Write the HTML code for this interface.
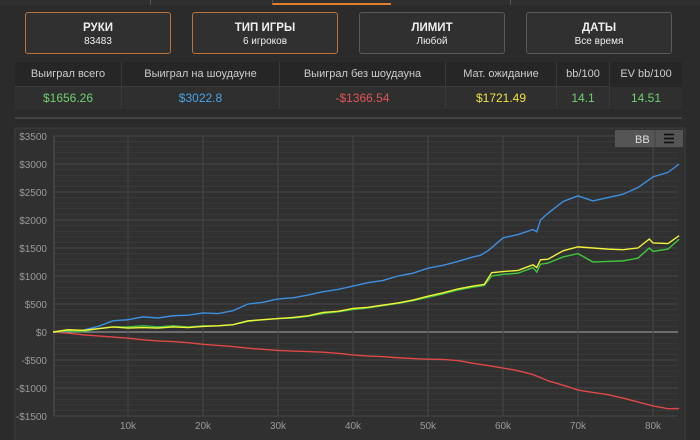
<!DOCTYPE html>
<html><head><meta charset="utf-8"><style>
body{margin:0;width:700px;height:440px;background:#2b2b2b;font-family:"Liberation Sans",sans-serif;overflow:hidden;position:relative;color:#ddd}
.tabbar{position:absolute;left:0;top:0;width:700px;height:5px;background:#2f2f2f}
.tab{position:absolute;top:0;height:5px;border-left:1px solid #555}
.btn{position:absolute;top:12px;width:144px;height:40px;border:1px solid #5a5a5a;border-radius:3px;background:#303030;text-align:center;font-size:11px;color:#eee}
.btn b{display:block;margin-top:9px;font-size:11.5px}
.btn span{display:block;margin-top:2px;font-size:10px}
.orange{border-color:#b8733a}
table{position:absolute;left:15px;top:62px;width:667px;border-collapse:collapse;font-size:11px}
td{text-align:center;border-right:1px solid #3a3a3a;padding:0}
tr.h td{background:#262626;height:24px;color:#ccc}
tr.v td{background:#2f2f2f;height:22px;font-size:12px;border-top:1px solid #3c3c3c}
</style></head><body>
<div class="tabbar">
<div class="tab" style="left:150px"></div>
<div class="tab" style="left:272px;width:118px;border-bottom:2px solid #e0802a;height:3px"></div>
<div class="tab" style="left:510px"></div>
</div>
<div class="btn orange" style="left:25px"><b>РУКИ</b><span>83483</span></div>
<div class="btn orange" style="left:192px"><b>ТИП ИГРЫ</b><span>6 игроков</span></div>
<div class="btn" style="left:359px"><b>ЛИМИТ</b><span>Любой</span></div>
<div class="btn" style="left:526px"><b>ДАТЫ</b><span>Все время</span></div>
<table>
<tr class="h"><td style="width:106px">Выиграл всего</td><td style="width:157px">Выиграл на шоудауне</td><td style="width:165px">Выиграл без шоудауна</td><td style="width:110px">Мат. ожидание</td><td style="width:52px">bb/100</td><td style="border:0">EV bb/100</td></tr>
<tr class="v"><td style="color:#6fcf6f">$1656.26</td><td style="color:#4aa3e8">$3022.8</td><td style="color:#e05555">-$1366.54</td><td style="color:#f0e040">$1721.49</td><td style="color:#6fcf6f">14.1</td><td style="color:#6fcf6f;border:0">14.51</td></tr>
</table>
<div style="position:absolute;left:15px;top:117px;width:667px;height:2px;background:#444"></div>
<svg id="c" width="700" height="440" style="position:absolute;left:0;top:0">
<rect x="15" y="128" width="670" height="320" fill="#303030" stroke="#3e3e3e"/>
<g id="grid"></g><g id="lines"></g>
<rect x="615" y="130" width="68" height="17" fill="#555"/>
<text x="635" y="143" font-size="11" fill="#ddd" font-family="Liberation Sans">BB</text>
<line x1="655" y1="130" x2="655" y2="147" stroke="#444"/>
<g stroke="#111" stroke-width="1.6"><line x1="664" y1="134.5" x2="674" y2="134.5"/><line x1="664" y1="138.5" x2="674" y2="138.5"/><line x1="664" y1="142.5" x2="674" y2="142.5"/></g>
</svg>
<script>
const yTicks=[3500,3000,2500,2000,1500,1000,500,0,-500,-1000,-1500];
const xTicks=[10000,20000,30000,40000,50000,60000,70000,80000];
const xTickLabels=["10k","20k","30k","40k","50k","60k","70k","80k"];
const blueX=[0,2000,4000,6000,8000,10000,12000,14000,16000,18000,20000,22000,24000,26000,28000,30000,32000,34000,36000,38000,40000,42000,44000,46000,48000,50000,52000,54000,56000,57000,58000,60000,62000,64000,64500,65000,66000,68000,70000,72000,74000,76000,78000,80000,82000,83483];
const blueY=[0,10,30,100,200,220,270,250,290,300,340,330,380,500,530,590,610,660,720,760,820,880,920,1000,1050,1140,1190,1260,1340,1370,1450,1680,1740,1830,1790,2000,2120,2330,2430,2340,2400,2460,2580,2770,2850,3000];
const yelX=[0,2000,4000,6000,8000,10000,12000,14000,16000,18000,20000,22000,24000,26000,28000,30000,32000,34000,36000,38000,40000,42000,44000,46000,48000,50000,52000,54000,56000,57500,58500,60000,62000,64000,64500,65000,66000,68000,70000,72000,74000,76000,78000,79500,80000,82000,83483];
const yelY=[0,40,30,60,90,70,80,70,90,80,100,110,130,200,220,240,260,290,350,370,420,440,480,520,570,640,700,770,820,850,1060,1080,1100,1200,1150,1290,1300,1450,1520,1500,1480,1470,1500,1660,1590,1580,1720];
const greenY=[0,20,10,60,90,90,110,90,110,90,110,110,130,190,220,240,250,280,330,360,400,430,470,510,560,620,680,750,800,830,1000,1030,1050,1150,1070,1210,1230,1340,1400,1250,1260,1270,1320,1500,1440,1480,1656];
const redX=[0,2000,4000,6000,8000,10000,12000,14000,16000,18000,20000,22000,24000,26000,28000,30000,32000,34000,36000,38000,40000,42000,44000,46000,48000,50000,52000,54000,56000,58000,60000,62000,64000,66000,68000,70000,72000,74000,76000,78000,80000,82000,83483];
const redY=[0,-20,-50,-70,-90,-110,-140,-160,-170,-190,-220,-240,-260,-290,-310,-330,-340,-350,-360,-380,-410,-430,-440,-460,-475,-485,-490,-510,-560,-600,-643,-690,-760,-870,-950,-1036,-1080,-1120,-1180,-1250,-1320,-1370,-1366];
const X=v=>53+v*75/10000, Y=v=>332-v*56/1000;
const NS="http://www.w3.org/2000/svg";
const grid=document.getElementById('grid'), lines=document.getElementById('lines');
function mk(tag,at,p){const e=document.createElementNS(NS,tag);for(const k in at)e.setAttribute(k,at[k]);p.appendChild(e);return e;}
for(let v=-1500;v<3500;v+=100){if(v%500===0)continue;
const l=mk('line',{x1:54,x2:678,y1:Y(v),y2:Y(v),stroke:'#383838','stroke-width':1},grid);

}
yTicks.forEach(v=>{
const l=mk('line',{x1:54,x2:678,y1:Y(v),y2:Y(v),stroke:v===0?'#aaa':'#474747','stroke-width':1},grid);


const t=mk('text',{x:47,y:Y(v)+4,'text-anchor':'end','font-size':10,fill:'#999','font-family':'Liberation Sans'},grid);


t.textContent=(v<0?'-$':'$')+Math.abs(v);});
xTicks.forEach((v,i)=>{
const l=mk('line',{x1:X(v),x2:X(v),y1:136,y2:416,stroke:'#474747','stroke-width':1},grid);


const t=mk('text',{x:X(v),y:429,'text-anchor':'middle','font-size':10,fill:'#999','font-family':'Liberation Sans'},grid);


t.textContent=xTickLabels[i];});
const ax=mk('line',{x1:54,x2:54,y1:136,y2:416,stroke:'#555'},grid);


function series(xs,ys,c,n){
const p=mk('polyline',{points:xs.map((x,i)=>X(x)+','+Y(ys[i])).join(' '),fill:'none',stroke:c,'stroke-width':1.4},lines);

}
series(redX,redY,'#e04848','no-showdown-line');
series(blueX,blueY,'#3d8fe0','showdown-line');
series(yelX,greenY,'#3fc63f','total-won-line');
series(yelX,yelY,'#f2f23a','ev-line');
</script>
</body></html>
